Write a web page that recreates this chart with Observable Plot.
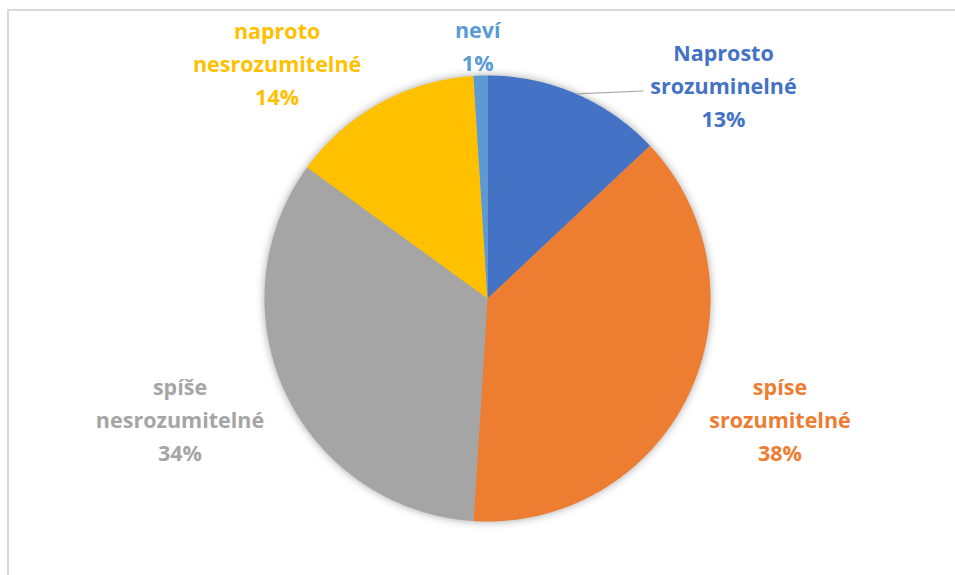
<!DOCTYPE html>
<html>
<head>
<meta charset="utf-8">
<script src="https://cdn.jsdelivr.net/npm/d3@7"></script>
<script src="https://cdn.jsdelivr.net/npm/@observablehq/plot@0.6"></script>
<style>
  html, body { margin: 0; padding: 0; background: #fff; overflow: hidden; }
  #wrap { position: relative; width: 955px; height: 575px; }
  #frame { position: absolute; left: 7px; top: 9px; width: 1200px; height: 1200px;
           border: 2px solid #d9d9d9; box-sizing: border-box; pointer-events: none; }
  #chart { position: absolute; left: 0; top: 0; }
  g[aria-label="line"] { filter: drop-shadow(0px 0px 4px rgba(0,0,0,0.35)); }
</style>
</head>
<body>
<div id="wrap"><div id="chart"></div><div id="frame"></div></div>
<script>
// ---- data ----
const categories = ["Naprosto srozuminelné", "spíse srozumitelné", "spíše nesrozumitelné", "naproto nesrozumitelné", "neví"];
const values = [13, 38, 34, 14, 1];
const colors = ["#4472C4", "#ED7D31", "#A5A5A5", "#FFC000", "#5B9BD5"];

// ---- layout (label placement tweaks, pixels) ----
const R = 223; // pixel radius
const labelRadius = 1.4;
const labelShift = {
  "Naprosto srozuminelné": [112, 71],
  "spíse srozumitelné": [10, -14],
  "spíše nesrozumitelné": [-25, -14],
  "naproto nesrozumitelné": [-60, 37],
  "neví": [0, 57]
};

const total = d3.sum(values);
let cum = 0;
const slices = categories.map((name, i) => {
  const a0 = cum / total * 2 * Math.PI;
  cum += values[i];
  const a1 = cum / total * 2 * Math.PI;
  return {name, value: values[i], a0, a1, mid: (a0 + a1) / 2};
});

// polygon points for each slice (angle from 12 o'clock, clockwise)
const piePts = [];
for (const s of slices) {
  piePts.push({name: s.name, x: 0, y: 0});
  const n = Math.max(2, Math.ceil((s.a1 - s.a0) / (Math.PI / 360)));
  for (let k = 0; k <= n; k++) {
    const a = s.a0 + (s.a1 - s.a0) * k / n;
    piePts.push({name: s.name, x: Math.sin(a), y: Math.cos(a)});
  }
  piePts.push({name: s.name, x: 0, y: 0});
}

const labels = slices.map(s => {
  const [dx, dy] = labelShift[s.name];
  return {
    name: s.name,
    x: labelRadius * Math.sin(s.mid) + dx / R,
    y: labelRadius * Math.cos(s.mid) - dy / R,
    text: s.name.replace(" ", "\n") + "\n" + Math.round(s.value / total * 100) + "%"
  };
});

// leader line for the first label
const first = slices[0];
const firstLabel = labels[0];
const leader = [{
  x1: Math.sin(first.mid), y1: Math.cos(first.mid),
  x2: firstLabel.x - 80 / R, y2: firstLabel.y - 8 / R
}];

const chart = Plot.plot({
  width: 955,
  height: 575,
  marginLeft: 264,
  marginRight: 245,
  marginTop: 75,
  marginBottom: 54,
  x: {domain: [-1, 1], axis: null},
  y: {domain: [-1, 1], axis: null},
  color: {domain: categories, range: colors},
  style: {background: "transparent", overflow: "visible"},
  marks: [
    Plot.line(piePts, {x: "x", y: "y", z: "name", fill: "name", stroke: null}),
    Plot.link(leader, {x1: "x1", y1: "y1", x2: "x2", y2: "y2", stroke: "#a6a6a6", strokeWidth: 1.2}),
    Plot.text(labels, {
      x: "x", y: "y", text: "text", fill: "name",
      fontSize: 21.5, fontWeight: "bold", lineHeight: 1.535,
      fontFamily: "Open Sans, Lato, sans-serif"
    })
  ]
});
document.getElementById("chart").appendChild(chart);
</script>
</body>
</html>
